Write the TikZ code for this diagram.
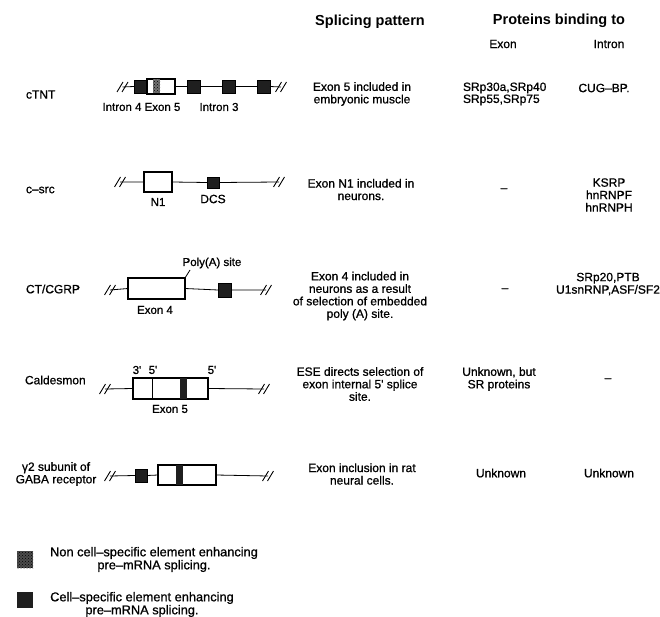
\documentclass[tikz,border=0pt]{standalone}
\usepackage{fontspec}
\setmainfont{Liberation Sans}
\newfontfamily\heavysans{Liberation Sans}[FakeBold=0.9]
\usetikzlibrary{patterns}
\newcommand{\brkmark}[1]{\draw[brkline, shift={(#1)}] (-5.5,5) -- (0.5,-5) (-0.5,5) -- (5.5,-5);}
\begin{document}
\begin{tikzpicture}[x=1pt,y=-1pt,
  every node/.style={inner sep=0pt, outer sep=0pt},
  txt/.style={font=\fontsize{12}{12.5}\selectfont\heavysans, align=center},
  legtxt/.style={font=\fontsize{12.8}{13}\selectfont\heavysans, align=center},
  txtl/.style={font=\fontsize{12}{12}\selectfont\heavysans, align=left},
  small/.style={font=\fontsize{11.5}{12}\selectfont\heavysans},
  hdr/.style={font=\fontsize{14.5}{16}\selectfont\bfseries},
  gene/.style={line width=0.8pt},
  brkline/.style={line width=0.9pt},
  exonbox/.style 2 args={draw, fill=white, line width=1.1pt, minimum width=#1, minimum height=#2},
  blkbox/.style 2 args={draw, fill=black!88, line width=0.6pt, minimum width=#1, minimum height=#2},
  stip/.style={fill=black!55, postaction={pattern=crosshatch dots, pattern color=black}},
  stipdark/.style={fill=black!70, postaction={pattern=crosshatch dots, pattern color=black}}
]
\useasboundingbox (0,0) rectangle (660,617);

% headers
\node[hdr] (hsp) at (370,22) {Splicing pattern};
\node[hdr] (hpb) at (559,21) {Proteins binding to};
\node[txt] (hex) at (503,44) {Exon};
\node[txt] (hin) at (609,44) {Intron};

% ---------------- cTNT
\node[txt, anchor=west] (l1) at (26,94.5) {cTNT};
\coordinate (L1) at (122.5,87);
\coordinate (R1) at (281,87);
\node[blkbox={12pt}{13pt}] (c1) at (140,86.5) {};
\node[exonbox={28pt}{15pt}] (c5) at (161,86.5) {};
\fill[stip] (153,79.5) rectangle (160,93.5);
\node[blkbox={13pt}{13pt}] (c2) at (193.5,86.5) {};
\node[blkbox={13pt}{13pt}] (c3) at (228.5,86.5) {};
\node[blkbox={13pt}{13pt}] (c4) at (263.5,86.5) {};
\draw[gene] (L1) -- (c1.west) (c5.east) -- (c2.west) (c2.east) -- (c3.west) (c3.east) -- (c4.west) (c4.east) -- (R1);
\brkmark{L1}
\brkmark{R1}
\node[small] (ci4) at (122,107) {Intron 4};
\node[small] (ce5) at (162.5,107) {Exon 5};
\node[small] (ci3) at (219,107) {Intron 3};
\node[txt] (s1) at (362,94) {Exon 5 included in\\embryonic muscle};
\node[txtl, anchor=west] (e1) at (463,94) {SRp30a,SRp40\\SRp55,SRp75};
\node[txt] (i1) at (604,88) {CUG–BP.};

% ---------------- c-src
\node[txt, anchor=west] (l2) at (26,190) {c–src};
\coordinate (L2) at (120,182);
\coordinate (R2) at (279,182);
\node[exonbox={28pt}{20pt}] (n1) at (158,182) {};
\node[blkbox={12pt}{11pt}] (dcs) at (213,182.5) {};
\draw[gene] (L2) -- (n1.west) (n1.east) -- (dcs.west) (dcs.east) -- (R2);
\brkmark{L2}
\brkmark{R2}
\node[small] (n1l) at (158,202) {N1};
\node[txt] (dcsl) at (213,199) {DCS};
\node[txt] (s2) at (361,189.5) {Exon N1 included in\\neurons.};
\node[txt] (e2) at (504,190) {–};
\node[txt] (i2) at (609,195) {KSRP\\hnRNPF\\hnRNPH};

% ---------------- CT/CGRP
\node[txt, anchor=west] (l3) at (26,289) {CT/CGRP};
\coordinate (L3) at (110,290);
\coordinate (R3) at (266,290);
\node[exonbox={57pt}{21pt}] (ex4) at (156.5,288.5) {};
\node[blkbox={13pt}{14pt}] (pb) at (224.5,290) {};
\draw[gene] (L3) -- (ex4.west) (ex4.east) -- (pb.west) (pb.east) -- (R3);
\brkmark{L3}
\brkmark{R3}
\coordinate (pa) at (190,270);
\draw[gene] (ex4.north east) -- (pa);
\node[small] (pal) at (212,263) {Poly(A) site};
\node[small] (ex4l) at (155,310) {Exon 4};
\node[txt] (s3) at (360,296) {Exon 4 included in\\neurons as a result\\of selection of embedded\\poly (A) site.};
\node[txt] (e3) at (505,290) {–};
\node[txt] (i3) at (608,284) {SRp20,PTB\\U1snRNP,ASF/SF2};

% ---------------- Caldesmon
\node[txt, anchor=west] (l4) at (25,380) {Caldesmon};
\coordinate (L4) at (105,389);
\coordinate (R4) at (264,389);
\node[exonbox={75pt}{21pt}] (cex) at (170.5,388.5) {};
\draw[gene] (L4) -- (cex.west) (cex.east) -- (R4);
\draw[line width=1pt] (152,378) -- (152,399);
\fill[black!88] (180,378) rectangle (187,399);
\brkmark{L4}
\brkmark{R4}
\node[small] (q1) at (137,370) {3'};
\node[small] (q2) at (153,370) {5'};
\node[small] (q3) at (212,370) {5'};
\node[small] (cexl) at (170,409) {Exon 5};
\node[txt] (s4) at (360,384) {ESE directs selection of\\exon internal 5' splice\\site.};
\node[txt] (e4) at (499,379) {Unknown, but\\SR proteins};
\node[txt] (i4) at (608,380) {–};

% ---------------- GABA
\node[txt] (l5) at (56,474) {γ2 subunit of\\GABA receptor};
\coordinate (L5) at (110,476);
\coordinate (R5) at (268,476);
\node[blkbox={12pt}{13pt}] (gb) at (141,475.5) {};
\node[exonbox={58pt}{20pt}] (gex) at (187,475) {};
\fill[black!88] (176,465) rectangle (183,485);
\draw[gene] (L5) -- (gb.west) (gb.east) -- (gex.west) (gex.east) -- (R5);
\brkmark{L5}
\brkmark{R5}
\node[txt] (s5) at (362,474) {Exon inclusion in rat\\neural cells.};
\node[txt] (e5) at (501,473) {Unknown};
\node[txt] (i5) at (609,473) {Unknown};

% ---------------- legend
\node[minimum width=16pt, minimum height=17pt, stipdark] (lg1) at (25,559.5) {};
\node[legtxt] (lt1) at (154,559.5) {Non cell–specific element enhancing\\pre–mRNA splicing.};
\node[minimum width=16pt, minimum height=16pt, fill=black!88] (lg2) at (25,600) {};
\node[legtxt] (lt2) at (142,604.5) {Cell–specific element enhancing\\pre–mRNA splicing.};
\end{tikzpicture}
\end{document}
